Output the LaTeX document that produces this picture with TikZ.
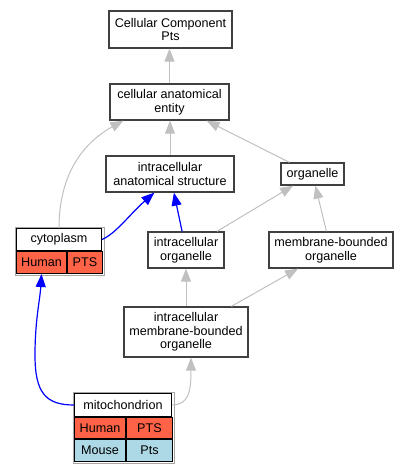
\documentclass[tikz,border=0pt]{standalone}
\usepackage{fontspec}
\setmainfont{Liberation Sans}
\usetikzlibrary{shapes,arrows.meta,positioning}
\definecolor{isagray}{RGB}{192,192,192}
\definecolor{human}{RGB}{255,99,71}
\definecolor{mouse}{RGB}{173,216,230}
\tikzset{
  every node/.style={
    font=\fontsize{12.6}{13.6}\selectfont
  },
  term/.style={
    shape=rectangle,
    draw=black!75,
    line width=1.3pt,
    fill=white,
    align=center,
    inner sep=0pt
  },
  cell/.style={
    shape=rectangle,
    draw=black,
    line width=1pt,
    fill=#1,
    inner sep=0pt,
    anchor=north west
  },
  isa/.style={
    draw=isagray,
    line width=1pt,
    -{Triangle[length=13pt,width=10pt]}
  },
  partof/.style={
    draw=blue,
    line width=1.2pt,
    -{Triangle[length=13pt,width=10pt]}
  }
}

\begin{document}
\begin{tikzpicture}[x=1pt,y=-1pt,
    tableframe/.style={draw=black!35, line width=0.6pt}
  ]
    \useasboundingbox (0,0) rectangle (408,469);
    \node[term,minimum width=123pt,minimum height=37pt] (ccp) at (170.5,29.5) {Cellular Component\\Pts};
    \node[term,minimum width=119pt,minimum height=36pt] (cae) at (169.5,102) {cellular anatomical\\entity};
    \node[term,minimum width=128pt,minimum height=36pt] (ias) at (170,174) {intracellular\\anatomical structure};
    \node[term,minimum width=63pt,minimum height=22pt] (org) at (312.5,174) {organelle};
    \node[term,minimum width=76pt,minimum height=36pt] (io) at (186,250) {intracellular\\organelle};
    \node[term,minimum width=124pt,minimum height=36pt] (mbo) at (331,250) {membrane-bounded\\organelle};
    \node[term,minimum width=124pt,minimum height=50pt] (imbo) at (186,332) {intracellular\\membrane-bounded\\organelle};

    \node[cell=white,minimum width=85pt,minimum height=22pt] (cyto) at (16,228) {cytoplasm};
    \node[cell=human,minimum width=50pt,minimum height=22pt] (cytoHuman) at (cyto.south west) {Human};
    \node[cell=human,minimum width=35pt,minimum height=22pt] (cytoPTS) at (cytoHuman.north east) {PTS};
    \draw[tableframe] ([shift={(-0.8,-0.8)}]cyto.north west) rectangle ([shift={(0.8,0.8)}]cytoPTS.south east);

    \node[cell=white,minimum width=97pt,minimum height=23pt] (mito) at (74,393) {mitochondrion};
    \node[cell=human,minimum width=51pt,minimum height=21pt] (mitoHuman) at (mito.south west) {Human};
    \node[cell=human,minimum width=46pt,minimum height=21pt] (mitoPTS) at (mitoHuman.north east) {PTS};
    \node[cell=mouse,minimum width=51pt,minimum height=22pt] (mitoMouse) at (mitoHuman.south west) {Mouse};
    \node[cell=mouse,minimum width=46pt,minimum height=22pt] (mitoPts) at (mitoMouse.north east) {Pts};
    \draw[tableframe] ([shift={(-0.8,-0.8)}]mito.north west) rectangle ([shift={(0.8,0.8)}]mitoPts.south east);

    \draw[isa] (cae.north) -- (cae.north |- ccp.south);
    \draw[isa] (ias.north) -- (ias.north |- cae.south);
    \draw[isa] (org) -- (cae);
    \draw[isa] (cyto.north) .. controls +(0,-63) and (92,138) .. ([xshift=14pt]cae.south west);
    \draw[isa] (io) -- (org);
    \draw[isa] (mbo) -- (org);
    \draw[isa] (imbo.north) -- (imbo.north |- io.south);
    \draw[isa] (imbo) -- (mbo);
    \draw[isa] (mito.east) .. controls +(17,0) and +(0,33) .. ([xshift=5pt]imbo.south);

    \draw[partof] (io) -- (ias);
    \draw[partof] (cyto.east) .. controls +(14,-6) and (130,214) .. ([xshift=49pt]ias.south west);
    \draw[partof] (mito.west) .. controls +(-29,0) and (35,392) .. (35,355)
      .. controls (35,320) and (40,300) .. (cytoHuman.south);
  \end{tikzpicture}
\end{document}
